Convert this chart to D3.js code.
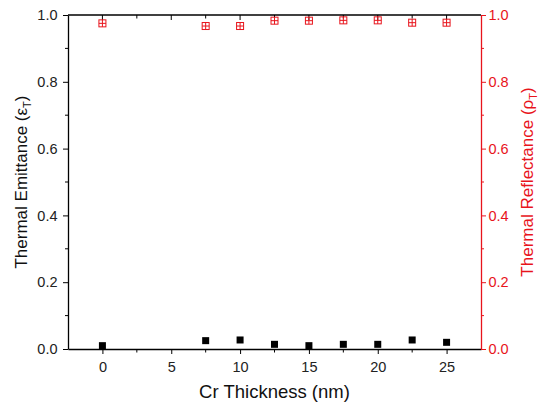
<!DOCTYPE html>
<html><head><meta charset="utf-8">
<script src="https://cdn.jsdelivr.net/npm/d3@7"></script>
<style>body{margin:0;background:#fff}svg{display:block;font-family:"Liberation Sans",Arial,sans-serif}</style>
</head><body><svg id="c" width="555" height="405"></svg>
<script>
const thickness = [0, 7.5, 10, 12.5, 15, 17.5, 20, 22.5, 25];
const emittance = [0.010, 0.025, 0.027, 0.014, 0.010, 0.014, 0.014, 0.027, 0.020];
const reflectance = [0.975, 0.967, 0.967, 0.983, 0.983, 0.984, 0.984, 0.977, 0.977];
const xTicks = [0, 5, 10, 15, 20, 25];
const yTicks = [0, 0.2, 0.4, 0.6, 0.8, 1.0];

const svg = d3.select("#c");
const L = 68, R = 481, T = 15, B = 349;
const x = d3.scaleLinear().domain([-2.5, 27.5]).range([L, R]);
const y = d3.scaleLinear().domain([0, 1]).range([B, T]);
const red = "#e8141c";

svg.append("line").attr("x1", L).attr("x2", R).attr("y1", T).attr("y2", T).attr("stroke", "#000").attr("stroke-width", 1.3);

// bottom axis
const minorX = d3.range(-2.5, 27.6, 2.5);
const gB = svg.append("g").attr("transform", `translate(0,${B})`)
  .call(d3.axisBottom(x).tickValues(xTicks).tickFormat(d3.format("d")).tickSize(5).tickSizeOuter(0));
gB.append("g").selectAll("line").data(minorX.filter(v => !xTicks.includes(v) && v > -2.5 && v < 27.5)).join("line")
  .attr("x1", d => x(d)).attr("x2", d => x(d)).attr("y1", 0).attr("y2", 3.5).attr("stroke", "#000");
svg.append("g").selectAll("line").data(minorX.filter(v => v > -2.5 && v < 27.5)).join("line")
  .attr("x1", d => x(d)).attr("x2", d => x(d)).attr("y1", T).attr("y2", d => T + (xTicks.includes(d) ? 5 : 3.5)).attr("stroke", "#000");

// left axis
const minorY = d3.range(0.1, 1.0, 0.2);
const gL = svg.append("g").attr("transform", `translate(${L},0)`)
  .call(d3.axisLeft(y).tickValues(yTicks).tickFormat(d3.format(".1f")).tickSize(5).tickPadding(5.5).tickSizeOuter(0));
gL.append("g").selectAll("line").data(minorY).join("line")
  .attr("x1", 0).attr("x2", -3).attr("y1", d => y(d)).attr("y2", d => y(d)).attr("stroke", "#000");

// right axis
const gR = svg.append("g").attr("transform", `translate(${R},0)`)
  .call(d3.axisRight(y).tickValues(yTicks).tickFormat(d3.format(".1f")).tickSize(5).tickPadding(2.5).tickSizeOuter(0));
gR.append("g").selectAll("line").data(minorY).join("line")
  .attr("x1", 0).attr("x2", 3).attr("y1", d => y(d)).attr("y2", d => y(d)).attr("stroke", red);
gR.selectAll("line").attr("stroke", red);
gR.select(".domain").attr("stroke", red);
gR.selectAll("text").attr("fill", red);

[gB, gL, gR].forEach(g => {
  g.select(".domain").attr("stroke-width", 1.3);
  g.selectAll("text").attr("font-size", 14.5).attr("font-family", "Liberation Sans, Arial, sans-serif");
});
gB.selectAll(".tick text").attr("y", 12.5).attr("dy", "0.71em").attr("fill", "#222");
gL.selectAll(".tick text").attr("fill", "#222");

// titles
svg.append("text").attr("x", (L + R) / 2).attr("y", 398).attr("text-anchor", "middle")
  .attr("font-size", 18.5).attr("fill", "#111").text("Cr Thickness (nm)");

const tl = svg.append("text").attr("transform", `translate(27,${(T + B) / 2}) rotate(-90)`)
  .attr("text-anchor", "middle").attr("font-size", 17).attr("fill", "#111");
tl.append("tspan").text("Thermal Emittance (ε");
tl.append("tspan").attr("font-size", 11).attr("dy", 4).text("T");
tl.append("tspan").attr("dy", -4).text(")");

const tr = svg.append("text").attr("transform", `translate(533,${(T + B) / 2}) rotate(-90)`)
  .attr("text-anchor", "middle").attr("font-size", 17).attr("fill", red);
tr.append("tspan").text("Thermal Reflectance (ρ");
tr.append("tspan").attr("font-size", 11).attr("dy", 4).text("T");
tr.append("tspan").attr("dy", -4).text(")");

// emittance markers
const s = 7;
svg.append("g").selectAll("rect").data(thickness).join("rect")
  .attr("x", (d) => x(d) - s / 2).attr("y", (d, i) => y(emittance[i]) - s / 2)
  .attr("width", s).attr("height", s).attr("fill", "#000");

// reflectance markers
const gr = svg.append("g").attr("stroke", red).attr("fill", "none").attr("stroke-width", 1);
thickness.forEach((t, i) => {
  const cx = x(t), cy = y(reflectance[i]);
  gr.append("rect").attr("x", cx - s / 2).attr("y", cy - s / 2).attr("width", s).attr("height", s);
  gr.append("line").attr("x1", cx - s / 2).attr("x2", cx + s / 2).attr("y1", cy).attr("y2", cy);
  gr.append("line").attr("x1", cx).attr("x2", cx).attr("y1", cy - s / 2).attr("y2", cy + s / 2);
});
</script></body></html>
